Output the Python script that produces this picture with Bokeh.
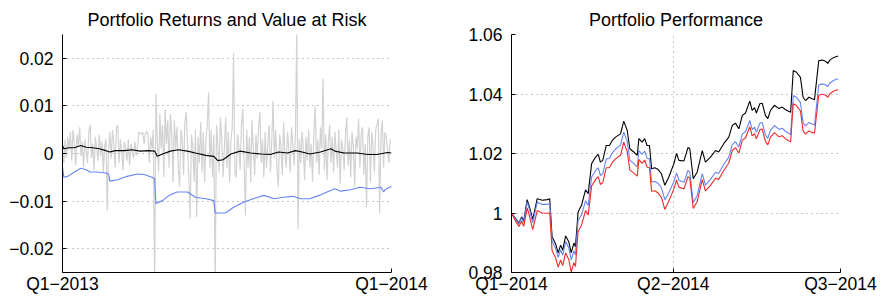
from bokeh.plotting import figure
from bokeh.layouts import row
from bokeh.models import FixedTicker, Range1d
from bokeh.embed import file_html
from bokeh.resources import INLINE

# ---------------- Left chart data: 2013 daily portfolio returns ----------------
ret_days = list(range(250))
returns = [
    0.0010, -0.0020, 0.0030, -0.0010, 0.0035, 0.0008, 0.0045, -0.0015, 0.0050, 0.0020,
    -0.0025, 0.0040, 0.0015, 0.0055, -0.0005, 0.0025, -0.0030, 0.0030, 0.0005, -0.0020,
    0.0045, 0.0060, -0.0010, 0.0020, -0.0035, 0.0035, 0.0010, -0.0015, 0.0040, -0.0005,
    0.0025, -0.0040, 0.0015, 0.0030, -0.0120, 0.0010, 0.0045, -0.0010, 0.0050, 0.0020,
    -0.0030, 0.0055, 0.0060, -0.0020, 0.0030, 0.0000, -0.0035, 0.0025, 0.0010, -0.0015,
    0.0030, -0.0025, 0.0020, 0.0005, -0.0010, 0.0025, -0.0005, 0.0015, 0.0045, 0.0043,
    0.0040, 0.0045, 0.0020, 0.0042, 0.0046, 0.0040, -0.0020, 0.0035, 0.0010, 0.0050,
    -0.0280, 0.0125, 0.0030, -0.0040, 0.0083, 0.0010, 0.0060, -0.0050, 0.0094, 0.0020,
    0.0070, -0.0030, 0.0083, 0.0040, -0.0060, 0.0070, 0.0010, 0.0055, -0.0030, -0.0070,
    0.0050, 0.0030, -0.0045, 0.0065, 0.0087, 0.0020, -0.0050, -0.0137, 0.0040, 0.0015,
    -0.0060, 0.0050, -0.0133, 0.0035, -0.0020, 0.0066, -0.0040, 0.0045, -0.0060, 0.0030,
    0.0060, 0.0128, -0.0030, 0.0050, -0.0050, 0.0040, -0.0280, 0.0060, 0.0020, -0.0040,
    0.0076, 0.0030, -0.0050, 0.0010, 0.0076, -0.0030, 0.0045, -0.0060, 0.0030, 0.0055,
    0.0210, -0.0040, -0.0050, 0.0040, 0.0015, -0.0035, 0.0060, 0.0094, -0.0020, -0.0130,
    0.0050, -0.0030, 0.0035, -0.0060, 0.0070, 0.0010, -0.0045, 0.0040, -0.0010, 0.0055,
    0.0087, -0.0020, 0.0030, -0.0050, 0.0045, -0.0030, 0.0020, 0.0060, -0.0040, 0.0025,
    0.0110, -0.0010, 0.0050, -0.0035, -0.0070, 0.0040, 0.0015, -0.0045, 0.0065, 0.0000,
    -0.0030, 0.0045, 0.0010, -0.0040, 0.0055, 0.0020, -0.0025, 0.0040, 0.0260, -0.0158,
    0.0030, -0.0020, 0.0045, 0.0010, -0.0055, 0.0035, -0.0015, 0.0050, -0.0030, 0.0020,
    -0.0060, 0.0040, 0.0100, -0.0020, 0.0030, -0.0045, 0.0055, 0.0010, 0.0157, -0.0035,
    0.0040, -0.0055, 0.0025, 0.0060, -0.0020, 0.0035, -0.0040, 0.0045, 0.0005, -0.0030,
    0.0050, -0.0063, 0.0030, 0.0010, -0.0035, 0.0040, 0.0076, -0.0025, 0.0030, -0.0050,
    0.0045, 0.0015, -0.0070, 0.0035, 0.0010, 0.0073, -0.0030, 0.0040, 0.0055, -0.0045,
    0.0020, -0.0113, 0.0035, 0.0055, -0.0060, 0.0045, 0.0015, -0.0040, 0.0050, 0.0060,
    0.0073, -0.0125, 0.0040, 0.0070, -0.0030, 0.0045, 0.0035, 0.0010, -0.0020, 0.0030,
]

mean_days = [0, 1, 5, 9, 14, 18, 23, 28, 33, 36, 40, 47, 53, 59, 65, 70, 72, 76, 82,
             88, 95, 101, 109, 115, 118, 122, 128, 135, 143, 151, 158, 164, 171, 177,
             182, 188, 196, 204, 207, 214, 224, 232, 239, 247, 250]
mean_ret = [0.0017, 0.0010, 0.0012, 0.0012, 0.0017, 0.0013, 0.0012, 0.0010, 0.0006,
            0.0003, 0.0006, 0.0006, 0.0008, 0.0005, 0.0006, 0.0005, -0.0006, -0.0001,
            0.0005, 0.0008, 0.0005, 0.0001, -0.0004, -0.0006, -0.0015, -0.0013, -0.0001,
            0.0005, 0.0001, -0.0001, -0.0002, 0.0003, 0.0001, 0.0006, 0.0003, -0.0001,
            0.0003, 0.0010, 0.0005, 0.0001, 0.0001, -0.0002, -0.0002, 0.0002, 0.0001]

var_days = [0, 1, 4, 9, 14, 18, 21, 26, 33, 35, 36, 42, 49, 57, 62, 68, 70, 71, 76,
            81, 87, 95, 101, 109, 115, 116, 123, 125, 130, 138, 145, 153, 161, 168,
            175, 181, 188, 195, 201, 207, 211, 219, 226, 234, 242, 244, 245, 250]
var_vals = [-0.0029, -0.0050, -0.0048, -0.0039, -0.0031, -0.0034, -0.0039, -0.0039,
            -0.0041, -0.0043, -0.0058, -0.0055, -0.0048, -0.0043, -0.0044, -0.0050,
            -0.0053, -0.0105, -0.0099, -0.0088, -0.0081, -0.0081, -0.0092, -0.0095,
            -0.0099, -0.0125, -0.0125, -0.0123, -0.0113, -0.0102, -0.0095, -0.0088,
            -0.0095, -0.0092, -0.0090, -0.0095, -0.0095, -0.0088, -0.0081, -0.0074,
            -0.0079, -0.0076, -0.0071, -0.0074, -0.0071, -0.0081, -0.0076, -0.0069]

left_xticks = [0, 250]
left_xlabels = ["Q1\u22122013", "Q1\u22122014"]
left_yticks = [-0.02, -0.01, 0, 0.01, 0.02]
left_ylabels = ["\u22120.02", "\u22120.01", "0", "0.01", "0.02"]

# ---------------- Right chart data: 2014 portfolio performance ----------------
perf_days = [0.0, 1.5, 2.8, 3.8, 4.6, 5.9, 6.8, 8.0, 9.7, 11.6, 13.5, 14.4, 15.3, 16.6,
             17.6, 18.5, 19.3, 20.4, 21.6, 22.5, 23.5, 24.1, 25.1, 26.4, 27.9, 28.9,
             30.2, 31.7, 32.7, 33.5, 34.4, 35.7, 36.9, 38.0, 39.2, 41.1, 42.3, 43.6,
             44.6, 46.1, 47.4, 48.0, 49.2, 50.2, 51.1, 52.0, 52.8, 54.0, 55.3, 56.5,
             57.8, 59.3, 61.2, 62.2, 63.1, 65.0, 66.5, 67.2, 68.5, 70.0, 71.9, 73.1,
             75.0, 76.9, 78.1, 80.0, 81.9, 83.2, 84.4, 85.7, 87.0, 88.2, 89.8, 90.7,
             91.6, 92.3, 93.6, 94.5, 95.7, 96.6, 97.6, 99.1, 100.8, 102.0, 103.3, 105.2,
             106.2, 107.4, 108.9, 109.9, 110.8, 112.1, 113.3, 114.2, 115.8, 117.1,
             118.4, 119.2, 120.0, 121.5, 123.1]
perf_black = [1.0000, 0.9981, 0.9966, 0.9987, 0.9973, 1.0045, 1.0020, 0.9978, 1.0048,
              1.0043, 1.0045, 1.0048, 0.9920, 0.9897, 0.9866, 0.9892, 0.9875, 0.9923,
              0.9903, 0.9866, 0.9899, 0.9886, 1.0003, 1.0026, 1.0078, 1.0065, 1.0166,
              1.0188, 1.0197, 1.0171, 1.0177, 1.0227, 1.0227, 1.0244, 1.0255, 1.0266,
              1.0309, 1.0278, 1.0216, 1.0205, 1.0194, 1.0250, 1.0238, 1.0250, 1.0227,
              1.0227, 1.0149, 1.0152, 1.0146, 1.0132, 1.0093, 1.0121, 1.0166, 1.0200,
              1.0177, 1.0175, 1.0220, 1.0216, 1.0115, 1.0138, 1.0210, 1.0171, 1.0188,
              1.0210, 1.0205, 1.0233, 1.0255, 1.0294, 1.0302, 1.0283, 1.0328, 1.0336,
              1.0376, 1.0345, 1.0354, 1.0336, 1.0367, 1.0369, 1.0328, 1.0317, 1.0345,
              1.0362, 1.0351, 1.0356, 1.0347, 1.0339, 1.0479, 1.0473, 1.0456, 1.0389,
              1.0378, 1.0389, 1.0384, 1.0381, 1.0512, 1.0514, 1.0510, 1.0503, 1.0514,
              1.0523, 1.0528]
perf_blue = [1.0000, 0.9979, 0.9963, 0.9983, 0.9968, 1.0037, 1.0011, 0.9968, 1.0036,
             1.0029, 1.0029, 1.0031, 0.9904, 0.9882, 0.9851, 0.9876, 0.9858, 0.9904,
             0.9882, 0.9842, 0.9873, 0.9859, 0.9975, 0.9994, 1.0041, 1.0025, 1.0121,
             1.0143, 1.0152, 1.0126, 1.0132, 1.0182, 1.0183, 1.0202, 1.0215, 1.0228,
             1.0272, 1.0241, 1.0178, 1.0166, 1.0154, 1.0210, 1.0197, 1.0208, 1.0184,
             1.0182, 1.0104, 1.0106, 1.0099, 1.0085, 1.0045, 1.0068, 1.0106, 1.0135,
             1.0110, 1.0103, 1.0143, 1.0138, 1.0035, 1.0059, 1.0132, 1.0094, 1.0113,
             1.0137, 1.0133, 1.0163, 1.0188, 1.0230, 1.0240, 1.0222, 1.0266, 1.0273,
             1.0311, 1.0280, 1.0289, 1.0271, 1.0302, 1.0304, 1.0263, 1.0251, 1.0278,
             1.0294, 1.0281, 1.0285, 1.0274, 1.0264, 1.0395, 1.0389, 1.0371, 1.0304,
             1.0293, 1.0304, 1.0299, 1.0296, 1.0430, 1.0434, 1.0431, 1.0425, 1.0437,
             1.0446, 1.0451]
perf_red = [1.0000, 0.9973, 0.9955, 0.9972, 0.9955, 1.0017, 0.9989, 0.9944, 1.0008,
            1.0000, 0.9999, 1.0001, 0.9873, 0.9850, 0.9818, 0.9842, 0.9823, 0.9866,
            0.9843, 0.9801, 0.9833, 0.9820, 0.9938, 0.9959, 1.0008, 0.9993, 1.0091,
            1.0113, 1.0122, 1.0096, 1.0102, 1.0152, 1.0152, 1.0170, 1.0182, 1.0194,
            1.0238, 1.0207, 1.0145, 1.0134, 1.0124, 1.0180, 1.0167, 1.0178, 1.0154,
            1.0152, 1.0073, 1.0075, 1.0067, 1.0053, 1.0012, 1.0040, 1.0081, 1.0111,
            1.0087, 1.0081, 1.0122, 1.0117, 1.0015, 1.0039, 1.0112, 1.0074, 1.0093,
            1.0117, 1.0113, 1.0143, 1.0168, 1.0210, 1.0220, 1.0201, 1.0245, 1.0252,
            1.0290, 1.0259, 1.0267, 1.0249, 1.0280, 1.0282, 1.0241, 1.0229, 1.0255,
            1.0270, 1.0256, 1.0260, 1.0249, 1.0239, 1.0367, 1.0361, 1.0343, 1.0276,
            1.0265, 1.0276, 1.0271, 1.0268, 1.0396, 1.0399, 1.0396, 1.0389, 1.0401,
            1.0410, 1.0415]

right_xticks = [0, 61, 124]
right_xlabels = ["Q1\u22122014", "Q2\u22122014", "Q3\u22122014"]
right_yticks = [0.98, 1.0, 1.02, 1.04, 1.06]
right_ylabels = ["0.98", "1", "1.02", "1.04", "1.06"]

FONT = "Liberation Sans"
GRAY = "#d2d2d2"
BLUE = "#6784f0"
RED = "#ee2a2a"


def style(p, xticks, xlabels, yticks, ylabels):
    p.outline_line_color = None
    p.title.text_font = FONT
    p.title.text_font_size = "18px"
    p.title.text_font_style = "normal"
    p.title.text_color = "black"
    p.title.align = "center"
    p.title.standoff = 10
    for ax in (p.xaxis[0], p.yaxis[0]):
        ax.axis_line_color = "black"
        ax.major_tick_line_color = "black"
        ax.major_tick_in = 4
        ax.major_tick_out = 0
        ax.minor_tick_line_color = None
        ax.major_label_text_font = FONT
        ax.major_label_text_font_size = "17.5px"
        ax.major_label_text_color = "black"
    p.xaxis[0].ticker = FixedTicker(ticks=xticks)
    p.xaxis[0].major_label_overrides = dict(zip(xticks, xlabels))
    p.xaxis[0].major_label_standoff = 1
    p.yaxis[0].ticker = FixedTicker(ticks=yticks)
    p.yaxis[0].major_label_overrides = dict(zip(yticks, ylabels))
    p.yaxis[0].major_label_standoff = 9
    for g in (p.xgrid[0], p.ygrid[0]):
        g.grid_line_color = "#8c8c8c"
        g.grid_line_dash = "1 4"
        g.grid_line_width = 1


p1 = figure(width=440, height=300, output_backend="svg", toolbar_location=None,
            title="Portfolio Returns and Value at Risk",
            x_range=Range1d(0, 250), y_range=Range1d(-0.025, 0.025),
            min_border_left=62, min_border_right=49, min_border_top=34,
            min_border_bottom=28)
style(p1, left_xticks, left_xlabels, left_yticks, left_ylabels)
p1.line(ret_days, returns, line_color=GRAY, line_width=1.2)
p1.line(mean_days, mean_ret, line_color="black", line_width=1.1)
p1.line(var_days, var_vals, line_color=BLUE, line_width=1.1)

p2 = figure(width=440, height=300, output_backend="svg", toolbar_location=None,
            title="Portfolio Performance",
            x_range=Range1d(0, 124), y_range=Range1d(0.98, 1.06),
            min_border_left=71, min_border_right=40, min_border_top=34,
            min_border_bottom=28)
style(p2, right_xticks, right_xlabels, right_yticks, right_ylabels)
p2.line(perf_days, perf_black, line_color="black", line_width=1.1)
p2.line(perf_days, perf_blue, line_color=BLUE, line_width=1.1)
p2.line(perf_days, perf_red, line_color=RED, line_width=1.1)

layout = row(p1, p2)
open("out.html", "w").write(file_html(layout, INLINE))
